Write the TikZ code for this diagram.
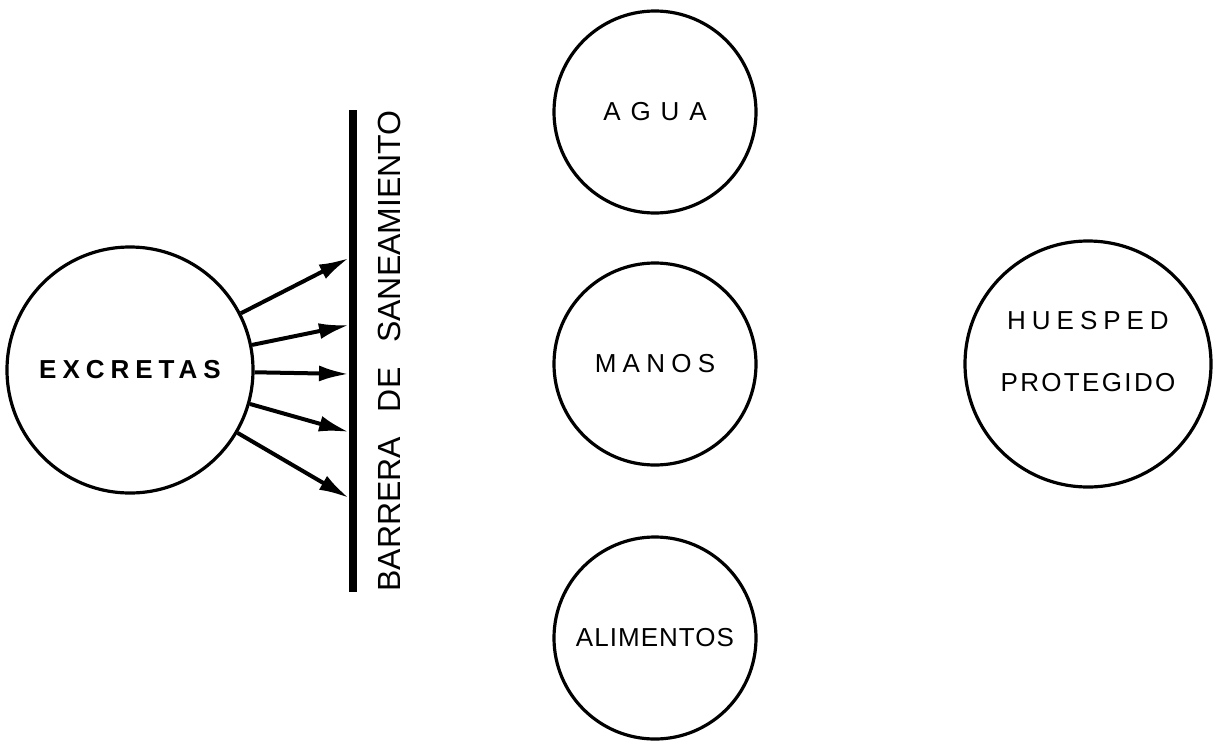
\documentclass[tikz,border=0pt]{standalone}
\usepackage{fontspec}
\setmainfont{Liberation Sans}
\usepackage{tikz}
\usetikzlibrary{arrows.meta,positioning}

\tikzset{
  circulo/.style={circle,draw,line width=3.2pt,minimum size=#1,inner sep=0pt},
  espaciado/.style={font=\fontsize{26}{31}\selectfont\addfontfeatures{LetterSpace=#1}},
  flecha/.style={line width=4pt,-{Latex[length=30pt,width=16pt]}},
}

\begin{document}
\begin{tikzpicture}[x=1pt,y=-1pt]
  \useasboundingbox (0,0) rectangle (1218,742);
  % fuente de contaminacion
  \node[circulo=246pt,font=\fontsize{26}{31}\selectfont\bfseries\addfontfeatures{LetterSpace=23}] (exc) at (130,370) {EXCRETAS};
  % barrera
  \coordinate (bartop) at (353,110);
  \coordinate (barbot) at (353,592);
  \draw[line width=8pt] (bartop) -- (barbot);
  \node[rotate=90,font=\fontsize{32}{38}\selectfont] (barlbl) at (389,351)
    {BARRERA\hspace{16pt} DE\hspace{16pt} SANEAMIENTO};
  \foreach \y [count=\n] in {258,325,374,432,498}{
    \coordinate (b\n) at (349,\y);
    \draw[flecha] (exc) -- (b\n);
  }
  % vias de transmision
  \node[circulo=202pt,espaciado=38] (agua) at (655,112) {AGUA};
  \node[circulo=202pt,espaciado=24] (manos) at (655,364) {MANOS};
  \node[circulo=202pt,espaciado=4] (alim) at (655,638) {ALIMENTOS};
  % huesped
  \node[circulo=246pt,espaciado=0,align=center,text depth=26pt] (hues) at (1088,364)
    {{\addfontfeatures{LetterSpace=23}HUESPED}\\[31pt]{\addfontfeatures{LetterSpace=9}PROTEGIDO}};
\end{tikzpicture}
\end{document}
